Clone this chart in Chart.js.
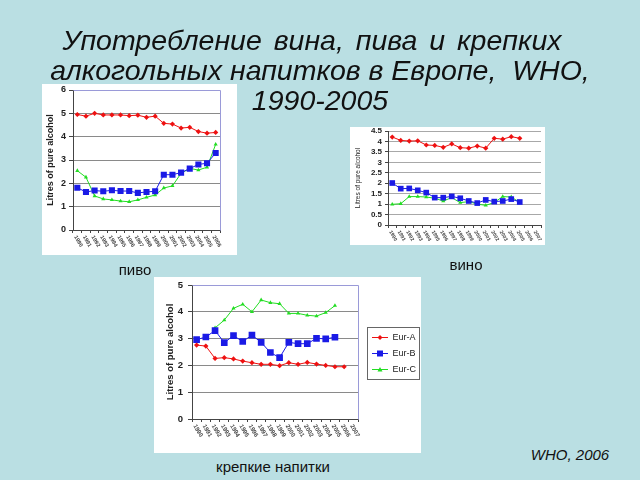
<!DOCTYPE html>
<html>
<head>
<meta charset="utf-8">
<script src="https://cdn.jsdelivr.net/npm/chart.js@4.4.1/dist/chart.umd.min.js"></script>
<style>
body { margin: 0; width: 640px; height: 480px; background: #badfe3; position: relative; overflow: hidden;
       font-family: Arial, "Liberation Sans", sans-serif; }
#title { position: absolute; left: 0; top: 25px; width: 640px; text-align: center; font-style: italic;
         font-size: 28.5px; line-height: 30px; color: #111; z-index: 2; white-space: nowrap; }
canvas { position: absolute; background: #fff; }
.cap { position: absolute; text-align: center; font-size: 15px; line-height: 18px; color: #111; }
</style>
</head>
<body>
<div id="title"><span style="word-spacing:4px; position:relative; left:-8px">Употребление вина, пива и крепких</span><br>алкогольных напитков в Европе,&nbsp; WHO,<br>1990-2005</div>

<canvas id="beer" width="195" height="171" style="left:42px; top:84px; width:195px; height:171px;"></canvas>
<canvas id="wine" width="195" height="118" style="left:350px; top:127px; width:195px; height:118px;"></canvas>
<canvas id="spirits" width="267" height="176" style="left:154px; top:277px; width:267px; height:176px;"></canvas>

<div class="cap" style="left:85px; top:261px; width:100px;">пиво</div>
<div class="cap" style="left:416px; top:256px; width:100px;">вино</div>
<div class="cap" style="left:173px; top:458px; width:200px;">крепкие напитки</div>
<div class="cap" style="left:520px; top:446px; width:100px; font-style:italic;">WHO, 2006</div>

<script>
// years on the x axis
var beerYears = ['1990','1991','1992','1993','1994','1995','1996','1997','1998','1999',
                 '2000','2001','2002','2003','2004','2005','2006'];
var wineYears = ['1990','1991','1992','1993','1994','1995','1996','1997','1998','1999',
                 '2000','2001','2002','2003','2004','2005','2006','2007'];
var spiritsYears = ['1990','1991','1992','1993','1994','1995','1996','1997','1998','1999',
                    '2000','2001','2002','2003','2004','2005','2006','2007'];
var seriesNames = ['Eur-A', 'Eur-B', 'Eur-C'];

// пиво
var beerA = [4.95, 4.88, 5.0, 4.93, 4.93, 4.93, 4.9, 4.92, 4.83, 4.88, 4.57, 4.54, 4.37, 4.4, 4.22, 4.15, 4.18];
var beerB = [1.81, 1.63, 1.69, 1.66, 1.7, 1.67, 1.67, 1.59, 1.63, 1.66, 2.37, 2.37, 2.46, 2.63, 2.81, 2.86, 3.3];
var beerC = [2.54, 2.26, 1.46, 1.33, 1.29, 1.24, 1.21, 1.29, 1.4, 1.5, 1.8, 1.89, 2.43, 2.64, 2.57, 2.69, 3.67];

// вино
var wineA = [4.21, 4.05, 4.02, 4.03, 3.83, 3.81, 3.72, 3.88, 3.7, 3.68, 3.78, 3.68, 4.15, 4.11, 4.23, 4.15];
var wineB = [2.01, 1.74, 1.75, 1.66, 1.55, 1.31, 1.31, 1.37, 1.28, 1.15, 1.05, 1.2, 1.12, 1.15, 1.24, 1.1];
var wineC = [0.99, 1.02, 1.36, 1.36, 1.34, 1.28, 1.15, 1.31, 1.07, 1.12, 1.0, 0.94, 1.08, 1.36, 1.34, 1.08];

// крепкие напитки
var spiritsA = [2.76, 2.72, 2.26, 2.29, 2.24, 2.16, 2.1, 2.04, 2.04, 1.99, 2.1, 2.04, 2.11, 2.05, 2.0, 1.95, 1.95];
var spiritsB = [2.96, 3.06, 3.3, 2.85, 3.11, 2.89, 3.13, 2.86, 2.48, 2.29, 2.86, 2.81, 2.81, 3.01, 2.99, 3.05];
var spiritsC = [null, null, 3.4, 3.69, 4.13, 4.28, 4.0, 4.44, 4.34, 4.3, 3.94, 3.94, 3.87, 3.84, 3.97, 4.23];

var yTitle = 'Litres of pure alcohol';

Chart.defaults.font.family = 'Arial, "Liberation Sans", sans-serif';
Chart.defaults.color = '#222';

var RED = '#ee1111', BLUE = '#1a1ae6', GREEN = '#22dd22';
var FRAME = '#9a9ad8';

// rotated year labels, going down-right like in Excel
var xLabels = {
	id: 'xLabels',
	afterDraw: function(chart, args, opts) {
		var sc = chart.scales.x, ctx = chart.ctx;
		ctx.save();
		ctx.font = 'bold ' + opts.size + 'px Arial, "Liberation Sans", sans-serif';
		ctx.fillStyle = '#444';
		ctx.textBaseline = 'middle';
		ctx.textAlign = 'left';
		chart.data.labels.forEach(function(l, i) {
			ctx.save();
			ctx.translate(sc.getPixelForValue(i) - 2, sc.top + 6);
			ctx.rotate(Math.PI / 3);
			ctx.fillText(l, 0, 0);
			ctx.restore();
		});
		ctx.restore();
	}
};

// purple top / right edge of the plot area
var frame = {
	id: 'frame',
	beforeDatasetsDraw: function(chart, args, opts) {
		if (!opts.show) return;
		var a = chart.chartArea, ctx = chart.ctx;
		ctx.save();
		ctx.strokeStyle = FRAME;
		ctx.lineWidth = 1;
		ctx.beginPath();
		ctx.moveTo(Math.round(a.left) + 0.5, Math.round(a.top) + 0.5);
		ctx.lineTo(Math.round(a.right) + 0.5, Math.round(a.top) + 0.5);
		ctx.lineTo(Math.round(a.right) + 0.5, Math.round(a.bottom) + 0.5);
		ctx.stroke();
		ctx.restore();
	}
};

// border around the legend
var legendBox = {
	id: 'legendBox',
	afterDraw: function(chart) {
		var lg = chart.legend;
		if (!lg || !lg.options.display || !lg.legendHitBoxes.length) return;
		var hb = lg.legendHitBoxes, ctx = chart.ctx;
		var first = hb[0], last = hb[hb.length - 1];
		var l = Math.round(first.left) + 2.5, t = Math.round(first.top) - 5.5;
		var r = Math.round(lg.left + lg.width) - 1.5, b = Math.round(last.top + last.height) + 5.5;
		ctx.save();
		ctx.strokeStyle = '#666';
		ctx.lineWidth = 1;
		ctx.strokeRect(l, t, r - l, b - t);
		ctx.restore();
	}
};

function legendMark(color, style) {
	var c = document.createElement('canvas');
	c.width = 23; c.height = 9;
	var g = c.getContext('2d');
	g.strokeStyle = color; g.fillStyle = color; g.lineWidth = 1;
	g.beginPath(); g.moveTo(7, 4.5); g.lineTo(23, 4.5); g.stroke();
	g.beginPath();
	if (style == 'rect') g.rect(12, 1.5, 6, 6);
	else if (style == 'triangle') { g.moveTo(15, 2); g.lineTo(17.5, 6.5); g.lineTo(12.5, 6.5); g.closePath(); }
	else { g.moveTo(15, 2); g.lineTo(17.5, 4.5); g.lineTo(15, 7); g.lineTo(12.5, 4.5); g.closePath(); }
	g.fill();
	return c;
}

function makeDatasets(a, b, c, sq) {
	return [
		{ label: seriesNames[0], data: a, borderColor: RED, backgroundColor: RED, borderWidth: 1,
		  pointStyle: 'rectRot', pointRadius: 2.6, pointBorderWidth: 0 },
		{ label: seriesNames[1], data: b, borderColor: BLUE, backgroundColor: BLUE, borderWidth: 1,
		  pointStyle: 'rect', pointRadius: sq, pointBorderWidth: 0 },
		{ label: seriesNames[2], data: c, borderColor: GREEN, backgroundColor: GREEN, borderWidth: 1,
		  pointStyle: 'triangle', pointRadius: 2.4, pointBorderWidth: 0 }
	];
}

function drawChart(id, labels, datasets, cfg) {
	return new Chart(document.getElementById(id), {
		type: 'line',
		data: { labels: labels, datasets: datasets },
		plugins: [xLabels, frame, legendBox],
		options: {
			responsive: false,
			animation: false,
			devicePixelRatio: 1,
			layout: { padding: cfg.padding },
			plugins: {
				legend: cfg.legend || { display: false },
				tooltip: { enabled: false },
				xLabels: { size: cfg.xFont },
				frame: { show: cfg.frame }
			},
			scales: {
				x: {
					offset: true,
					grid: { display: true, offset: true, drawOnChartArea: false, drawTicks: true,
					        tickLength: 3, tickColor: '#444' },
					border: { color: '#444' },
					ticks: { display: false },
					afterFit: function(s) { s.height = cfg.xHeight; s.paddingLeft = 0; s.paddingRight = 0; }
				},
				y: {
					min: 0, max: cfg.max,
					ticks: { stepSize: cfg.step, padding: cfg.tickPad, color: '#222', autoSkip: false,
					         font: { size: cfg.yFont, weight: cfg.tickBold ? 'bold' : 'normal' },
					         callback: function(v) { return String(v); } },
					grid: { color: cfg.grid, tickLength: cfg.tickLen, tickColor: '#444' },
					border: { color: '#444' },
					title: { display: true, text: yTitle, color: '#222', padding: { top: cfg.titlePad, bottom: 0 },
					         font: { size: cfg.titleFont, weight: cfg.bold ? 'bold' : 'normal' } },
					afterFit: function(s) { s.width = cfg.yWidth; s.paddingTop = 0; s.paddingBottom = 0; }
				}
			}
		}
	});
}

drawChart('beer', beerYears, makeDatasets(beerA, beerB, beerC, 4.3), {
	padding: { left: 0, top: 6, right: 17, bottom: 0 },
	xHeight: 25, yWidth: 31, max: 6, step: 1, grid: '#8a8a8a', tickLen: 4, tickPad: 3,
	yFont: 9, titleFont: 9, titlePad: 3, bold: true, tickBold: true, xFont: 5.5, frame: true
});

drawChart('wine', wineYears, makeDatasets(wineA, wineB, wineC, 4), {
	padding: { left: 0, top: 4, right: 3, bottom: 0 },
	xHeight: 20, yWidth: 38, max: 4.5, step: 0.5, grid: '#a8a8a8', tickLen: 3, tickPad: 3,
	yFont: 8, titleFont: 6.5, titlePad: 4, bold: false, tickBold: true, xFont: 5, frame: false
});

var marks = [legendMark(RED, 'diamond'), legendMark(BLUE, 'rect'), legendMark(GREEN, 'triangle')];

drawChart('spirits', spiritsYears, makeDatasets(spiritsA, spiritsB, spiritsC, 4.7), {
	padding: { left: 0, top: 8, right: 0, bottom: 31 },
	xHeight: 3, yWidth: 38, max: 5, step: 1, grid: '#8a8a8a', tickLen: 4, tickPad: 5,
	yFont: 9.5, titleFont: 9.5, titlePad: 11, bold: true, tickBold: true, xFont: 6, frame: true,
	legend: {
		display: true, position: 'right', maxWidth: 63,
		labels: {
			usePointStyle: true, pointStyleWidth: 23, padding: 7, color: '#222',
			font: { size: 9 },
			generateLabels: function(chart) {
				var items = Chart.defaults.plugins.legend.labels.generateLabels(chart);
				items.forEach(function(it, i) { it.pointStyle = marks[i]; });
				return items;
			}
		}
	}
});
</script>
</body>
</html>
